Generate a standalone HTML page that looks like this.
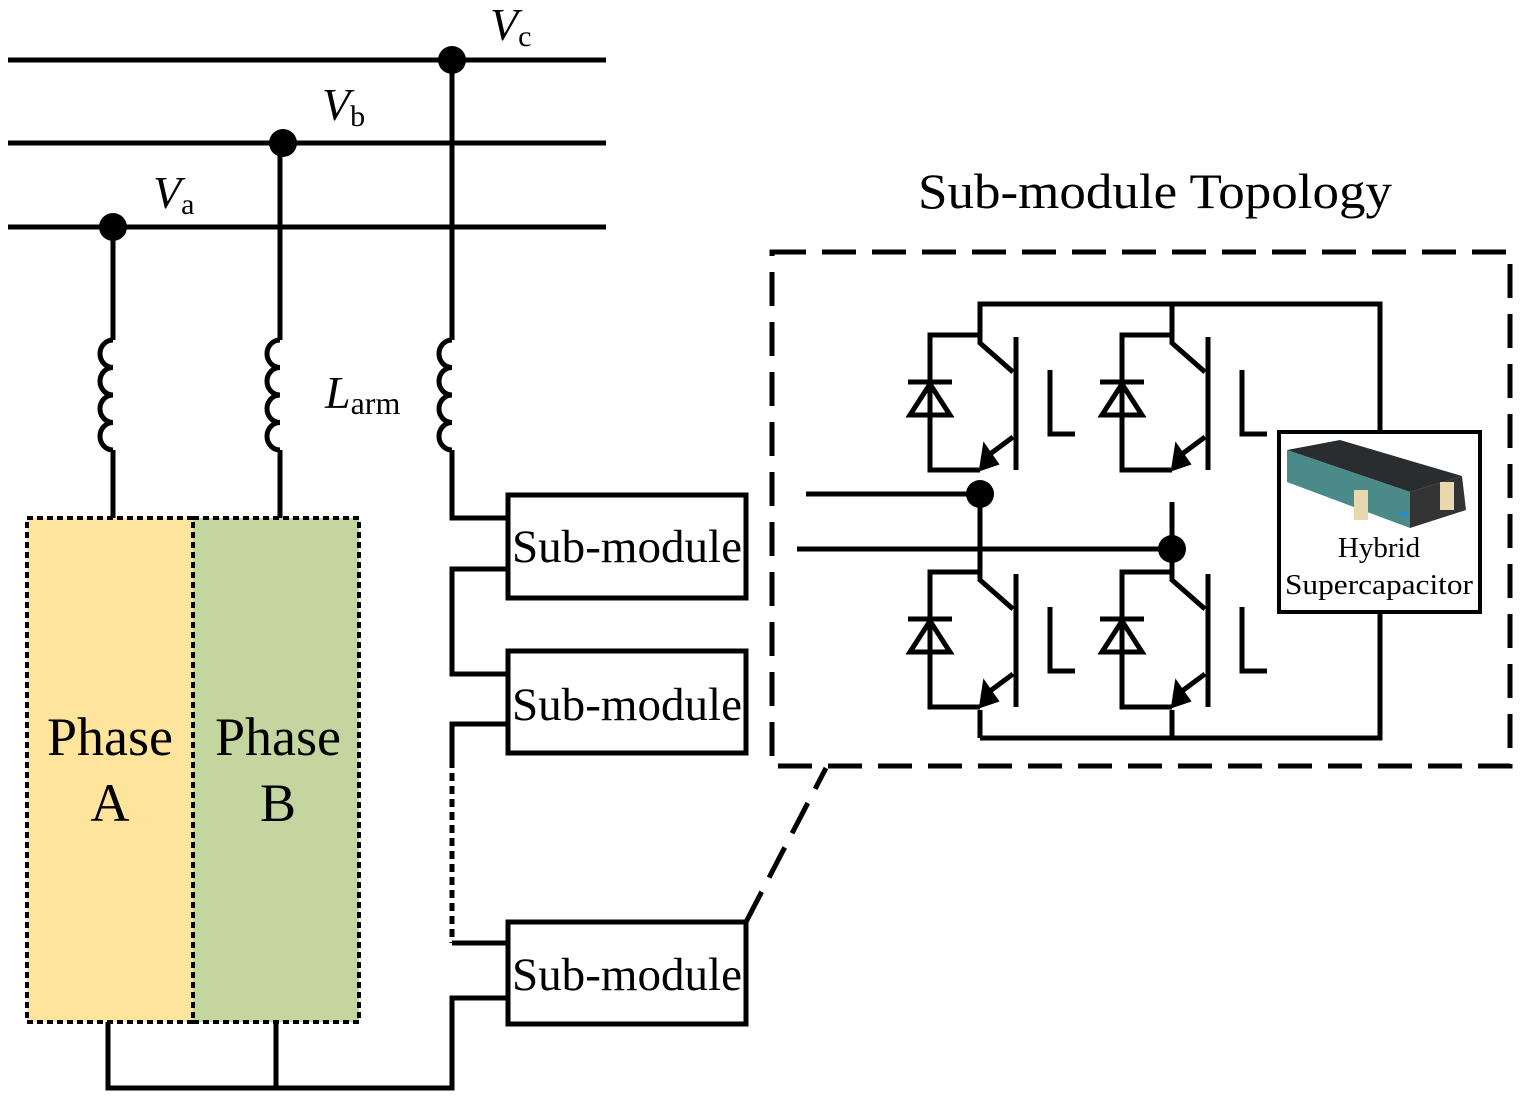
<!DOCTYPE html>
<html><head><meta charset="utf-8"><style>
html,body{margin:0;padding:0;background:#fff}
svg{display:block}
text{font-family:"Liberation Serif",serif;fill:#000}
</style></head><body>
<svg width="1521" height="1102" viewBox="0 0 1521 1102" xmlns="http://www.w3.org/2000/svg">
<defs>
<g id="igbt" fill="none" stroke="#000" stroke-width="5">
  <path d="M0,0 V39 L33,68"/>
  <path d="M36,33 V166"/>
  <path d="M33,133 L2,156"/>
  <polygon points="0,166 4,140 18,160" fill="#000" stroke-width="2"/>
  <path d="M0,31 H-50 V166 H0"/>
  <path d="M-72,78 H-28"/>
  <polygon points="-50,80 -70,111 -30,111" stroke-width="5"/>
  <path d="M70,66 V130 H95"/>
</g>
</defs>
<g stroke="#000" stroke-width="5" fill="none">
  <line x1="8" y1="60" x2="606" y2="60"/>
  <line x1="8" y1="143" x2="606" y2="143"/>
  <line x1="8" y1="227" x2="606" y2="227"/>
</g>
<rect x="27" y="518" width="166" height="504" fill="#FFE49C" stroke="#000" stroke-width="4" stroke-dasharray="6,4"/>
<rect x="193" y="518" width="166" height="504" fill="#C4D6A0" stroke="#000" stroke-width="4" stroke-dasharray="6,4"/>
<g stroke="#000" stroke-width="5" fill="none">
  <path d="M113,227 V340 M113,450 V518"/>
  <path d="M280,143 V340 M280,450 V518"/>
  <path d="M452,60 V340 M452,450 V518 H508"/>
  <path d="M113,340 a13,13.75 0 1,0 0,27.5 a13,13.75 0 1,0 0,27.5 a13,13.75 0 1,0 0,27.5 a13,13.75 0 1,0 0,27.5"/>
  <path d="M280,340 a13,13.75 0 1,0 0,27.5 a13,13.75 0 1,0 0,27.5 a13,13.75 0 1,0 0,27.5 a13,13.75 0 1,0 0,27.5"/>
  <path d="M452,340 a13,13.75 0 1,0 0,27.5 a13,13.75 0 1,0 0,27.5 a13,13.75 0 1,0 0,27.5 a13,13.75 0 1,0 0,27.5"/>
  <path d="M508,569 H452 V674 H508"/>
  <path d="M508,724 H452 V760"/>
  <path d="M452,760 V943" stroke-dasharray="8,5"/>
  <path d="M452,943 H508"/>
  <path d="M508,998 H452 V1088 H108 V1022 M276,1088 V1022"/>
  <rect x="508" y="495" width="238" height="103"/>
  <rect x="508" y="651" width="238" height="102"/>
  <rect x="508" y="922" width="238" height="102"/>
  <path d="M746,922 L826,768" stroke-dasharray="34,16"/>
  <rect x="772" y="252" width="738" height="514" stroke-dasharray="34,16"/>
  <path d="M980,335 V304 H1380 V432 M1172,304 V335"/>
  <path d="M980,502 V572 M1172,502 V572"/>
  <path d="M980,738 H1380 V612 M980,738 V710 M1172,738 V710"/>
  <path d="M806,494 H980 M797,549 H1172"/>
  <rect x="1279" y="432" width="201" height="180" stroke-width="4"/>
</g>
<use href="#igbt" x="980" y="304"/>
<use href="#igbt" x="1172" y="304"/>
<use href="#igbt" x="980" y="541"/>
<use href="#igbt" x="1172" y="541"/>
<g fill="#000">
  <circle cx="452" cy="60" r="14"/>
  <circle cx="283" cy="143" r="14"/>
  <circle cx="113" cy="227" r="14"/>
  <circle cx="980" cy="494" r="14"/>
  <circle cx="1172" cy="549" r="14"/>
</g>
<g>
  <polygon points="1287,450 1340,440 1462,476 1410,492" fill="#2a2d30"/>
  <polygon points="1287,450 1410,492 1410,528 1287,482" fill="#4a8a88"/>
  <polygon points="1410,492 1462,476 1466,510 1410,528" fill="#333"/>
  <rect x="1354" y="490" width="14" height="30" fill="#e8d8b0"/>
  <rect x="1440" y="482" width="14" height="28" fill="#e8d8b0"/>
  <rect x="1400" y="512" width="8" height="4" fill="#2a8ad0"/>
</g>
<text x="1379" y="557" font-size="29" text-anchor="middle">Hybrid</text>
<text x="1379" y="594" font-size="29" text-anchor="middle" textLength="188" lengthAdjust="spacingAndGlyphs">Supercapacitor</text>
<g font-size="47">
  <text x="627" y="562" text-anchor="middle" textLength="230" lengthAdjust="spacingAndGlyphs">Sub-module</text>
  <text x="627" y="720" text-anchor="middle" textLength="230" lengthAdjust="spacingAndGlyphs">Sub-module</text>
  <text x="627" y="990" text-anchor="middle" textLength="230" lengthAdjust="spacingAndGlyphs">Sub-module</text>
</g>
<text x="1155" y="208" font-size="50" text-anchor="middle" textLength="474" lengthAdjust="spacingAndGlyphs">Sub-module Topology</text>
<g font-size="54" text-anchor="middle">
  <text x="110" y="755">Phase</text>
  <text x="110" y="821">A</text>
  <text x="278" y="755">Phase</text>
  <text x="278" y="821">B</text>
</g>
<text x="490" y="40" font-size="46"><tspan font-style="italic">V</tspan><tspan font-size="30" dy="6">c</tspan></text>
<text x="322" y="120" font-size="46"><tspan font-style="italic">V</tspan><tspan font-size="30" dy="6">b</tspan></text>
<text x="153" y="208" font-size="46"><tspan font-style="italic">V</tspan><tspan font-size="30" dy="6">a</tspan></text>
<text x="325" y="408" font-size="46"><tspan font-style="italic">L</tspan><tspan font-size="32" dy="6">arm</tspan></text>
</svg>
</body></html>
